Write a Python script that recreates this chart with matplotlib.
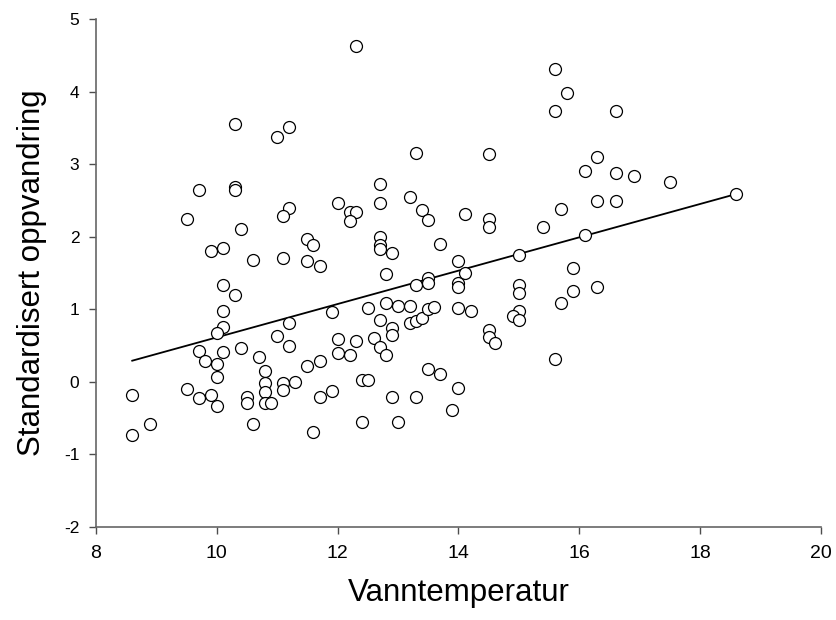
import matplotlib
matplotlib.use('Agg')
import matplotlib.pyplot as plt

# Data
temp = [12.3, 10.3, 11.0, 11.2, 9.7, 10.3, 10.3, 9.5, 10.4, 11.2,
        11.1, 12.0, 12.2, 12.3, 12.2, 9.9, 10.1, 10.6, 11.1, 11.5,
        11.6, 11.5, 11.7, 10.1, 10.3, 10.1, 10.1, 10.0, 9.7, 9.8,
        10.0, 10.0, 10.1, 10.4, 8.6, 8.9, 8.6, 9.5, 9.7, 9.9,
        10.0, 10.5, 10.5, 10.6, 10.7, 10.8, 10.8, 10.8, 10.8, 10.9,
        11.0, 11.2, 11.2, 11.1, 11.1, 11.3, 11.5, 11.7, 11.7, 11.6,
        11.9, 11.9, 12.0, 12.0, 12.2, 12.3, 12.4, 12.5, 12.4, 12.9,
        13.0, 13.3, 13.5, 13.7, 14.0, 13.9, 12.8, 12.5, 12.8, 13.0,
        13.2, 12.7, 12.9, 12.9, 12.6, 12.7, 12.8, 13.2, 13.3, 13.4,
        13.5, 13.6, 13.3, 13.5, 13.5, 14.0, 14.0, 14.1, 14.0, 14.2,
        14.5, 14.5, 14.6, 15.0, 15.0, 15.0, 14.9, 15.0, 15.6, 15.7,
        15.9, 15.9, 16.3, 14.0, 15.6, 15.8, 15.6, 13.3, 14.5, 16.3,
        16.1, 12.7, 12.7, 13.2, 13.4, 13.5, 14.1, 14.5, 14.5, 15.7,
        15.4, 16.3, 12.7, 12.7, 12.7, 12.9, 13.7, 15.0, 16.1, 16.6,
        16.6, 16.9, 17.5, 16.6, 18.6]
oppvandring = [4.63, 3.55, 3.38, 3.51, 2.64, 2.68, 2.64, 2.24, 2.11, 2.39,
               2.29, 2.46, 2.34, 2.34, 2.22, 1.81, 1.85, 1.68, 1.70, 1.97,
               1.89, 1.67, 1.60, 1.34, 1.20, 0.98, 0.76, 0.67, 0.43, 0.29,
               0.24, 0.07, 0.41, 0.46, -0.18, -0.58, -0.74, -0.10, -0.23, -0.19,
               -0.33, -0.21, -0.29, -0.59, 0.34, 0.15, -0.02, -0.14, -0.29, -0.30,
               0.63, 0.81, 0.49, -0.02, -0.12, -0.01, 0.22, 0.29, -0.21, -0.70,
               0.96, -0.13, 0.59, 0.39, 0.37, 0.56, 0.02, 0.02, -0.56, -0.21,
               -0.56, -0.21, 0.18, 0.10, -0.08, -0.39, 1.48, 1.02, 1.08, 1.05,
               1.05, 0.85, 0.74, 0.65, 0.60, 0.48, 0.37, 0.81, 0.84, 0.88,
               1.01, 1.03, 1.34, 1.43, 1.36, 1.36, 1.30, 1.50, 1.02, 0.98,
               0.71, 0.61, 0.53, 1.33, 1.23, 0.97, 0.90, 0.85, 0.32, 1.09,
               1.57, 1.25, 1.30, 1.66, 4.31, 3.98, 3.74, 3.16, 3.14, 3.10,
               2.91, 2.73, 2.46, 2.55, 2.37, 2.23, 2.31, 2.25, 2.13, 2.38,
               2.14, 2.49, 1.99, 1.89, 1.83, 1.77, 1.90, 1.75, 2.02, 3.73,
               2.88, 2.84, 2.76, 2.49, 2.59]

# regression line end points
line_x = [8.6, 18.6]
line_y = [0.29, 2.59]

x_ticks = [8, 10, 12, 14, 16, 18, 20]
y_ticks = [-2, -1, 0, 1, 2, 3, 4, 5]

plt.rcParams['font.family'] = ['Liberation Sans', 'DejaVu Sans']
plt.rcParams['axes.unicode_minus'] = False

fig = plt.figure(figsize=(8.36, 6.2), dpi=100)
ax = fig.add_axes([0.1148, 0.1505, 0.8672, 0.8184])

ax.plot(line_x, line_y, color='black', linewidth=1.3, zorder=2)
ax.plot(temp, oppvandring, 'o', markersize=8.6, markerfacecolor='white',
        markeredgecolor='black', markeredgewidth=0.9, linestyle='none',
        zorder=3)

ax.set_xlim(8, 20)
ax.set_ylim(-2, 5)
ax.set_xticks(x_ticks)
ax.set_yticks(y_ticks)
ax.tick_params(direction='out', length=5, width=1, colors='0.3',
               labelcolor='black')
ax.tick_params(axis='x', labelsize=14, pad=8)
ax.tick_params(axis='y', labelsize=12.5, pad=7)

for side in ['top', 'right']:
    ax.spines[side].set_visible(False)
for side in ['left', 'bottom']:
    ax.spines[side].set_color('0.4')
    ax.spines[side].set_linewidth(1.2)

ax.set_xlabel('Vanntemperatur', fontsize=22.5, labelpad=12)
ax.set_ylabel('Standardisert oppvandring', fontsize=22.5, labelpad=12)

fig.savefig('out.png', dpi=100)
